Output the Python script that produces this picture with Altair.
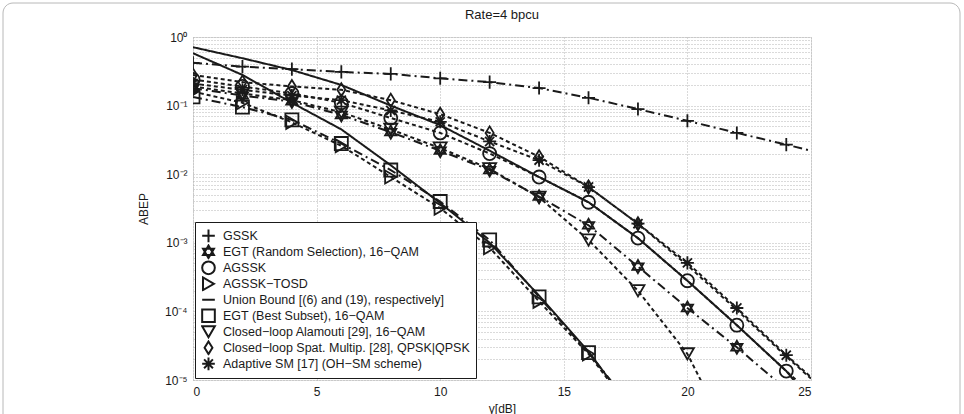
import altair as alt
import pandas as pd

# ---------------- data ----------------
snr = [0, 2, 4, 6, 8, 10, 12, 14, 16, 18, 20, 22, 24]

names = [
    "GSSK",
    "EGT (Random Selection), 16\u2212QAM",
    "AGSSK",
    "AGSSK\u2212TOSD",
    "Union Bound [(6) and (19), respectively]",
    "EGT (Best Subset), 16\u2212QAM",
    "Closed\u2212loop Alamouti [29], 16\u2212QAM",
    "Closed\u2212loop Spat. Multip. [28], QPSK|QPSK",
    "Adaptive SM [17] (OH\u2212SM scheme)",
]

gssk = [0.42, 0.37, 0.34, 0.31, 0.29, 0.25, 0.22, 0.18, 0.13, 0.089, 0.06, 0.04, 0.027]
gssk_tail_x, gssk_tail_y = [25], [0.022]

egt_rand = [0.18, 0.14, 0.115, 0.073, 0.041, 0.022, 0.0115, 0.0047, 0.0018, 0.00045, 0.000112, 3.0e-5]
egt_rand_tail_x, egt_rand_tail_y = [23.7], [9e-6]

agssk = [0.24, 0.19, 0.15, 0.11, 0.066, 0.04, 0.02, 0.0091, 0.0039, 0.00117, 0.00028, 6.3e-5, 1.35e-5]
agssk_tail_x, agssk_tail_y = [24.7], [8e-6]

agssk_tosd = [0.16, 0.11, 0.057, 0.026, 0.0091, 0.0032, 0.00085, 0.00014, 2.4e-5]
agssk_tosd_tail_x, agssk_tosd_tail_y = [16.9], [9e-6]

bound_hi = [0.71, 0.49, 0.33, 0.2, 0.1, 0.052, 0.022, 0.0091, 0.0039, 0.00117, 0.00028, 6.3e-5, 1.35e-5]
bound_hi_tail_x, bound_hi_tail_y = [24.4], [9e-6]
bound_lo = [0.58, 0.28, 0.11, 0.045, 0.0135, 0.0038, 0.001, 0.00017, 2.6e-5]
bound_lo_tail_x, bound_lo_tail_y = [16.95], [9e-6]

egt_best = [0.134, 0.095, 0.062, 0.028, 0.0115, 0.004, 0.0011, 0.000163, 2.5e-5]
egt_best_tail_x, egt_best_tail_y = [17.1], [8e-6]

alamouti = [0.19, 0.15, 0.12, 0.08, 0.045, 0.024, 0.012, 0.0046, 0.0011, 0.0002, 2.4e-5]
alamouti_tail_x, alamouti_tail_y = [20.6], [9e-6]

cl_sm = [0.28, 0.22, 0.19, 0.17, 0.12, 0.075, 0.04, 0.018, 0.0065, 0.0019]
cl_sm_tail_x, cl_sm_tail_y = [20, 22, 24, 25], [0.00047, 0.000105, 2.2e-5, 1.05e-5]

adapt_sm = [0.21, 0.17, 0.14, 0.12, 0.085, 0.058, 0.03, 0.016, 0.0065, 0.0019, 0.00051, 0.000112, 2.3e-5]
adapt_sm_tail_x, adapt_sm_tail_y = [25], [1.1e-5]

# ---------------- build long table ----------------
rows = []
def add(series, curve, ys, tx, ty, marker=True):
    for xv, yv in zip(snr, ys):
        rows.append(dict(series=series, style=curve, curve=curve, x=xv, y=yv, marker=marker))
    for xv, yv in zip(tx, ty):
        rows.append(dict(series=series, style=curve, curve=curve, x=xv, y=yv, marker=False))

add(names[0], "gssk", gssk, gssk_tail_x, gssk_tail_y)
add(names[1], "egt_rand", egt_rand, egt_rand_tail_x, egt_rand_tail_y)
add(names[2], "agssk", agssk, agssk_tail_x, agssk_tail_y)
add(names[3], "agssk_tosd", agssk_tosd, agssk_tosd_tail_x, agssk_tosd_tail_y)
add(names[4], "bound_hi", bound_hi, bound_hi_tail_x, bound_hi_tail_y, marker=False)
add(names[4], "bound_lo", bound_lo, bound_lo_tail_x, bound_lo_tail_y, marker=False)
add(names[5], "egt_best", egt_best, egt_best_tail_x, egt_best_tail_y)
add(names[6], "alamouti", alamouti, alamouti_tail_x, alamouti_tail_y)
add(names[7], "cl_sm", cl_sm, cl_sm_tail_x, cl_sm_tail_y)
add(names[8], "adapt_sm", adapt_sm, adapt_sm_tail_x, adapt_sm_tail_y)
df = pd.DataFrame(rows)

# ---------------- styles ----------------
plus = "M-1,0L1,0M0,-1L0,1"
hexagram = "M0,-1L0.866,0.5L-0.866,0.5Z M0,1L0.866,-0.5L-0.866,-0.5Z"
diamond = "M0,-1L0.62,0L0,1L-0.62,0Z"
asterisk = "M0,-1L0,1M-1,0L1,0M-0.7,-0.7L0.7,0.7M-0.7,0.7L0.7,-0.7"
shapes = [plus, hexagram, "circle", "triangle-right", "stroke", "square",
          "triangle-down", diamond, asterisk]

dashdot = [9, 4, 2, 4]
dotted = [4, 3]
style_domain = ["gssk", "egt_rand", "agssk", "agssk_tosd", "bound_hi", "bound_lo",
                "egt_best", "alamouti", "cl_sm", "adapt_sm"]
style_range = [dashdot, dashdot, dotted, dotted, [1, 0], [1, 0], dashdot, dotted, dotted, dotted]

ink = "#1a1a1a"
font = "Liberation Sans"

decades = [1e-5, 1e-4, 1e-3, 1e-2, 1e-1, 1]
yvals = list(decades)
for e in range(-5, 0):
    for m in range(2, 10):
        yvals.append(float(f"{m}e{e}"))
sup = {1: "10\u2070", 0.1: "10\u207b\u00b9", 0.01: "10\u207b\u00b2",
       0.001: "10\u207b\u00b3", 0.0001: "10\u207b\u2074", 1e-5: "10\u207b\u2075"}
label_expr = " : ".join(
    [f"datum.value == {k} ? '{v}'" for k, v in sup.items()]) + " : ''"

xscale = alt.Scale(domain=[0, 25], nice=False)
yscale = alt.Scale(type="log", domain=[1e-5, 1], nice=False)

xenc = alt.X("x:Q", scale=xscale,
             axis=alt.Axis(values=[0, 5, 10, 15, 20, 25], title="\u03b3[dB]",
                           ticks=False, labelPadding=6, titlePadding=6,
                           gridDash=[1, 2], gridColor="#b4b4b4", domain=False,
                           labelFontSize=12, titleFontSize=12, titleFontWeight="normal",
                           labelFont=font, titleFont=font, labelColor=ink, titleColor=ink))
yenc = alt.Y("y:Q", scale=yscale,
             axis=alt.Axis(values=yvals, labelExpr=label_expr, title="ABEP",
                           ticks=False, labelPadding=6, titlePadding=14,
                           gridDash=[1, 2], gridColor="#b4b4b4", domain=False,
                           labelFontSize=12, titleFontSize=12, titleFontWeight="normal",
                           labelFont=font, titleFont=font, labelColor=ink, titleColor=ink,
                           labelOverlap=False))

lines = alt.Chart(df).mark_line(clip=True, strokeWidth=2, color=ink).encode(
    x=xenc, y=yenc,
    detail="curve:N",
    strokeDash=alt.StrokeDash("style:N", scale=alt.Scale(domain=style_domain, range=style_range),
                              legend=None),
    order="x:Q",
)

points = alt.Chart(df).transform_filter("datum.marker").mark_point(
    clip=True, filled=False, strokeWidth=1.8, color=ink, size=170, opacity=1
).encode(
    x="x:Q", y="y:Q",
    shape=alt.Shape("series:N", scale=alt.Scale(domain=names, range=shapes),
                    legend=alt.Legend(title=None, orient="none", legendX=2, legendY=185,
                                      fillColor="white", strokeColor=ink, padding=6,
                                      labelFont=font, labelFontSize=12.5, labelColor=ink,
                                      labelLimit=500, symbolSize=160, symbolStrokeWidth=2,
                                      symbolStrokeColor=ink, symbolFillColor="transparent",
                                      rowPadding=0, labelOffset=7, cornerRadius=0,
                                      clipHeight=15.6)),
)

frame = alt.Chart(df).mark_rect(
    fill="transparent", stroke="#b8b8b8", strokeWidth=1, cornerRadius=10, clip=False
).encode(
    x=alt.value(-190), x2=alt.value(767), y=alt.value(-34), y2=alt.value(395)
).transform_filter("datum.curve == 'gssk' && datum.x == 0")

chart = alt.layer(frame, lines, points).properties(
    width=618, height=343,
    title=alt.Title("Rate=4 bpcu", fontSize=13, fontWeight="normal", font=font,
                    color=ink, offset=0, dy=19),
    autosize=alt.AutoSizeParams(type="none"),
    padding={"left": 193, "top": 37, "right": 153, "bottom": 34},
).configure_view(stroke=ink, strokeWidth=1.2).configure(background="white")

chart.save("out.html", embed_options={"renderer": "svg", "actions": False})
